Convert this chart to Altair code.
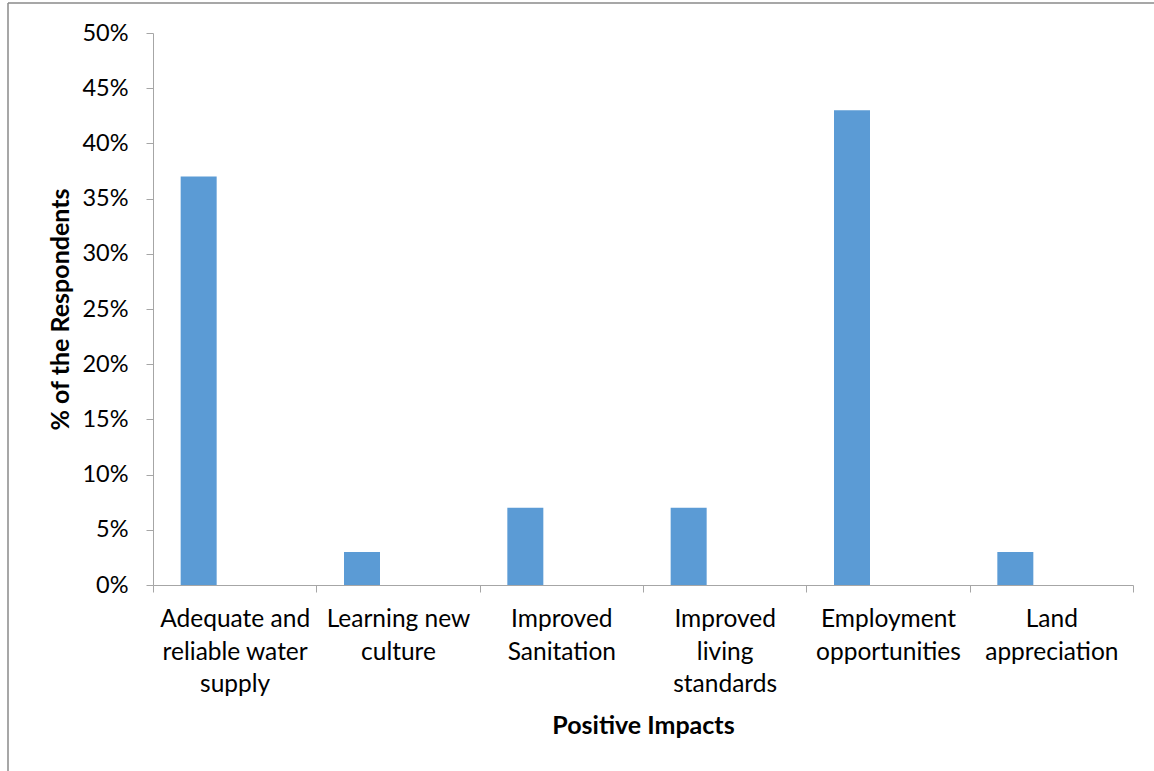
import altair as alt
import pandas as pd

# Survey results: share of respondents naming each positive impact
impacts = [
    "Adequate and\nreliable water\nsupply",
    "Learning new\nculture",
    "Improved\nSanitation",
    "Improved\nliving\nstandards",
    "Employment\nopportunities",
    "Land\nappreciation",
]
shares = [0.37, 0.03, 0.07, 0.07, 0.43, 0.03]
y_ticks = [0.0, 0.05, 0.10, 0.15, 0.20, 0.25, 0.30, 0.35, 0.40, 0.45, 0.50]

df = pd.DataFrame({"impact": impacts, "share": shares})

FONT = "Lato"
AXIS_GRAY = "#A6A6A6"
W, H = 980, 552

bars = alt.Chart(df).mark_bar(
    color="#5B9BD5", width=36, xOffset=-36
).encode(
    x=alt.X(
        "impact:N",
        sort=impacts,
        scale=alt.Scale(paddingInner=0, paddingOuter=0),
        axis=alt.Axis(
            title="Positive Impacts",
            labelAngle=0,
            labelExpr="split(datum.label, '\\n')",
            labelLineHeight=32.5,
            labelBaseline="top",
            labelPadding=15.5,
            labelFontSize=24.5,
            tickBand="extent",
            tickSize=7,
            titleFontSize=25,
            titleFontWeight="bold",
            titleX=W / 2,
            titleY=140,
            titleBaseline="middle",
        ),
    ),
    y=alt.Y(
        "share:Q",
        scale=alt.Scale(domain=[0, 0.5], nice=False),
        axis=alt.Axis(
            title="% of the Respondents",
            values=y_ticks,
            format=".0%",
            grid=False,
            tickSize=7,
            labelPadding=18,
            labelFontSize=23.5,
            titleFontSize=25,
            titleFontWeight="bold",
            titleX=-93,
            titleY=H / 2,
            titleBaseline="middle",
            titleAngle=-90,
        ),
    ),
)

# Frame around the chart area (top and left edges)
frame_df = pd.DataFrame({"k": [0]})
frame_top = alt.Chart(frame_df).mark_rule(color="#8A8A8A", strokeWidth=1.5).encode(
    x=alt.value(-145), x2=alt.value(1010), y=alt.value(-30)
)
frame_left = alt.Chart(frame_df).mark_rule(color="#8A8A8A", strokeWidth=1.5).encode(
    x=alt.value(-145), y=alt.value(-30), y2=alt.value(800)
)

chart = (
    alt.layer(bars, frame_top, frame_left)
    .properties(
        width=W,
        height=H,
        autosize=alt.AutoSizeParams(type="none"),
        padding={"left": 153, "top": 33, "right": 21, "bottom": 186},
        background="white",
    )
    .configure_view(stroke=None)
    .configure_axis(
        domainColor=AXIS_GRAY,
        tickColor=AXIS_GRAY,
        labelColor="#000000",
        titleColor="#000000",
        labelFont=FONT,
        titleFont=FONT,
    )
)

chart.save("out.html", embed_options={"renderer": "svg", "actions": False})
